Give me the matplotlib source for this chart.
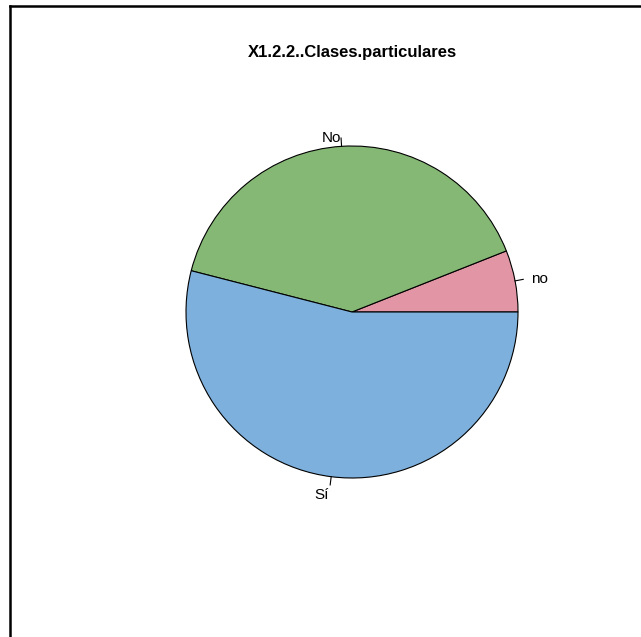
import numpy as np
import matplotlib
matplotlib.use("Agg")
import matplotlib.pyplot as plt
from matplotlib.lines import Line2D

plt.rcParams["font.family"] = ["Liberation Sans", "DejaVu Sans"]

title = "X1.2.2..Clases.particulares"
labels = ["no", "No", "Sí"]
counts = [3, 20, 27]
colors = ["#E295A5", "#86B875", "#7DB0DD"]

W, H = 641, 637
fig = plt.figure(figsize=(W / 100, H / 100), dpi=100)

# pie centre (352, 312) px, radius 166 px
cx, cy, r = 352, 312, 166
lim = 1.25
size = r * lim * 2
ax = fig.add_axes([(cx - size / 2) / W, (H - cy - size / 2) / H, size / W, size / H])
ax.pie(counts, colors=colors, startangle=0, counterclock=True, radius=1.0,
       wedgeprops=dict(edgecolor="black", linewidth=0.8))
ax.set_xlim(-lim, lim)
ax.set_ylim(-lim, lim)
ax.set_aspect("equal")
ax.axis("off")

# R-style labels with small tick lines
fracs = np.cumsum([0] + counts) / sum(counts)
for i, lab in enumerate(labels):
    mid = 2 * np.pi * (fracs[i] + fracs[i + 1]) / 2
    c, s = np.cos(mid), np.sin(mid)
    ax.plot([c, 1.05 * c], [s, 1.05 * s], color="black", lw=0.8)
    # labels near the top sit a little closer to the tick in the original
    rr = 1.06 if s > 0.9 else 1.1
    ax.text(rr * c, rr * s, lab, ha="left" if c > 0 else "right",
            va="center_baseline", fontsize=11)

fig.text(cx / W, 1 - 53 / H, title, ha="center", va="center",
         fontsize=12, fontweight="bold")

# device frame
fig.add_artist(Line2D([9.5 / W, 9.5 / W], [0, 1 - 6 / H], color="black", lw=1.8,
                      transform=fig.transFigure))
fig.add_artist(Line2D([9.5 / W, 1], [1 - 6 / H, 1 - 6 / H], color="black", lw=1.8,
                      transform=fig.transFigure))

fig.savefig("out.png", dpi=100)
